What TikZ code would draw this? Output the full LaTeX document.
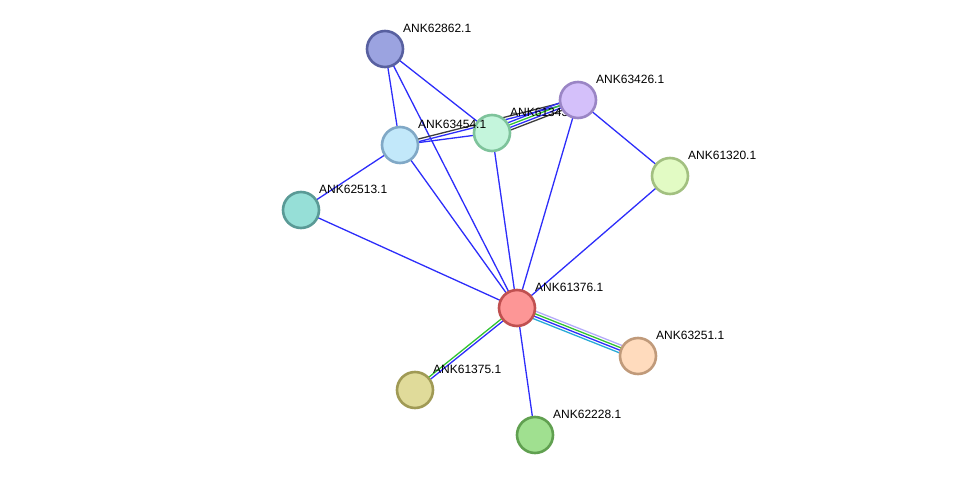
\documentclass[tikz,border=0pt]{standalone}
\usepackage{fontspec}
\setmainfont{Liberation Sans}
\usetikzlibrary{calc,backgrounds}
\definecolor{eblue}{RGB}{45,45,250}
\definecolor{egreen}{RGB}{50,195,50}
\definecolor{elav}{RGB}{180,170,250}
\definecolor{ecyan}{RGB}{40,170,215}
\definecolor{egray}{RGB}{60,60,60}
\definecolor{fA}{RGB}{155,163,224}\definecolor{dA}{RGB}{88,96,160}
\definecolor{fB}{RGB}{194,232,250}\definecolor{dB}{RGB}{128,168,198}
\definecolor{fC}{RGB}{196,245,220}\definecolor{dC}{RGB}{126,195,155}
\definecolor{fD}{RGB}{212,192,250}\definecolor{dD}{RGB}{154,133,197}
\definecolor{fE}{RGB}{226,251,196}\definecolor{dE}{RGB}{162,192,128}
\definecolor{fF}{RGB}{150,223,215}\definecolor{dF}{RGB}{90,154,150}
\definecolor{fG}{RGB}{253,150,150}\definecolor{dG}{RGB}{192,80,80}
\definecolor{fH}{RGB}{255,219,189}\definecolor{dH}{RGB}{192,154,122}
\definecolor{fI}{RGB}{224,219,154}\definecolor{dI}{RGB}{160,154,85}
\definecolor{fJ}{RGB}{160,224,144}\definecolor{dJ}{RGB}{96,160,80}
\tikzset{
  prot/.style={circle, minimum size=36pt, inner sep=0pt, line width=2.6pt},
  lab/.style={anchor=west, font=\fontsize{12}{12}\selectfont, inner sep=0pt},
  edg/.style={line width=1.3pt},
}
\newcommand\prot[6]{\node[prot, fill=#4, draw=#5] (#1) at (#2,#3) {};
  \node[lab] (#1l) at (#2+18,#3-21) {#6};}
\newcommand\medge[4]{\draw[edg,#4] ($(#1)!#3!90:(#2)$) -- ($(#2)!#3!-90:(#1)$);}
\begin{document}
\begin{tikzpicture}[x=1pt,y=-1pt]
\useasboundingbox (0,0) rectangle (975,481);
\prot{a}{385}{49}{fA}{dA}{ANK62862.1}
\prot{c}{492}{133}{fC}{dC}{ANK61343.1}
\prot{d}{578}{100}{fD}{dD}{ANK63426.1}
\prot{b}{400}{145}{fB}{dB}{ANK63454.1}
\prot{e}{670}{176}{fE}{dE}{ANK61320.1}
\prot{f}{301}{210}{fF}{dF}{ANK62513.1}
\prot{g}{517}{308}{fG}{dG}{ANK61376.1}
\prot{h}{638}{356}{fH}{dH}{ANK63251.1}
\prot{i}{415}{390}{fI}{dI}{ANK61375.1}
\prot{j}{535}{435}{fJ}{dJ}{ANK62228.1}
\begin{scope}[on background layer]
\medge{a}{b}{0pt}{eblue}
\medge{a}{c}{0pt}{eblue}
\medge{a}{g}{0pt}{eblue}
\medge{b}{f}{0pt}{eblue}
\medge{b}{c}{0pt}{eblue}
\medge{b}{d}{1.3pt}{egray}
\medge{b}{d}{-1.3pt}{eblue}
\medge{b}{g}{0pt}{eblue}
\medge{c}{d}{3.9pt}{eblue}
\medge{c}{d}{1.3pt}{egreen}
\medge{c}{d}{-1.3pt}{eblue}
\medge{c}{d}{-3.9pt}{egray}
\medge{c}{g}{0pt}{eblue}
\medge{d}{e}{0pt}{eblue}
\medge{d}{g}{0pt}{eblue}
\medge{e}{g}{0pt}{eblue}
\medge{f}{g}{0pt}{eblue}
\medge{g}{h}{3.9pt}{elav}
\medge{g}{h}{1.3pt}{egreen}
\medge{g}{h}{-1.3pt}{eblue}
\medge{g}{h}{-3.9pt}{ecyan}
\medge{g}{i}{-1.3pt}{egreen}
\medge{g}{i}{1.3pt}{eblue}
\medge{g}{j}{0pt}{eblue}
\end{scope}
\end{tikzpicture}
\end{document}
